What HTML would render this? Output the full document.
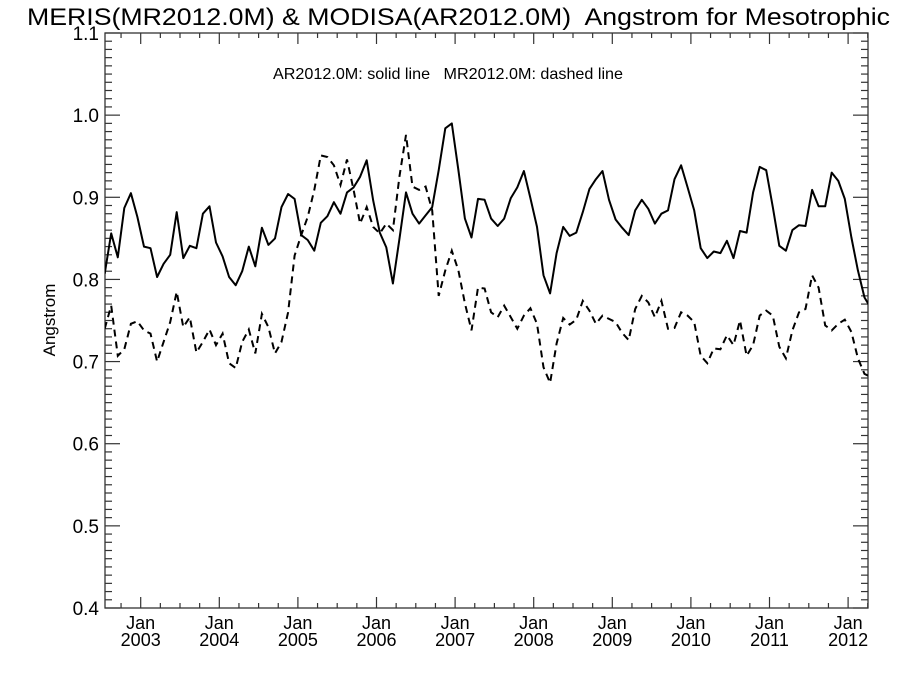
<!DOCTYPE html>
<html><head><meta charset="utf-8">
<style>
body{margin:0;background:#fff;}
svg{display:block;font-family:"Liberation Sans",Arial,sans-serif;}
</style></head>
<body>
<svg id="chart" width="900" height="675" viewBox="0 0 900 675">
<defs><clipPath id="clip"><rect x="105" y="33" width="763" height="575"/></clipPath></defs>
<text x="27" y="25" font-size="24" textLength="863" lengthAdjust="spacingAndGlyphs" xml:space="preserve">MERIS(MR2012.0M) &amp; MODISA(AR2012.0M)  Angstrom for Mesotrophic</text>
<text x="273" y="79" font-size="16" textLength="350" lengthAdjust="spacingAndGlyphs" xml:space="preserve">AR2012.0M: solid line   MR2012.0M: dashed line</text>
<text transform="translate(55,320) rotate(-90)" font-size="17" text-anchor="middle">Angstrom</text>
<g id="axes"></g>
<g id="series" clip-path="url(#clip)"></g>
</svg>
<script>
const yTicks = [0.4,0.5,0.6,0.7,0.8,0.9,1.0,1.1];
const years = [2003,2004,2005,2006,2007,2008,2009,2010,2011,2012];
const solidAR = [.807,.856,.827,.887,.905,.876,.840,.838,.803,.819,.830,.882,.826,.841,.838,.880,.889,.845,.828,.803,.793,.810,.840,.816,.863,.842,.850,.888,.904,.898,
.854,.848,.835,.869,.877,.894,.880,.906,.912,.925,.945,.896,.857,.839,.795,.849,.906,.880,.868,.878,.888,.933,.984,.990,.933,.874,.851,.898,.897,
.874,.865,.874,.899,.912,.932,.899,.864,.805,.783,.832,.864,.853,.857,.882,.910,.922,.932,.897,.873,.863,.854,.884,.897,.886,.868,.880,.884,.922,
.939,.912,.884,.838,.826,.834,.832,.847,.826,.859,.857,.906,.937,.933,.888,.841,.835,.860,.866,.865,.909,.889,.889,.930,.920,.898,.851,.811,.778,.765];
const dashedMR = [.740,.768,.707,.715,.746,.749,.738,.734,.700,.724,.748,.785,.742,.754,.711,.724,.739,.720,.734,.698,.692,.724,.739,.710,.758,.742,.710,.724,.760,.829,
.854,.876,.909,.951,.949,.939,.915,.946,.909,.868,.888,.864,.856,.868,.860,.925,.976,.913,.909,.913,.884,.780,.811,.835,.811,.771,.738,.790,.789,
.760,.754,.768,.754,.740,.756,.765,.746,.693,.674,.722,.753,.745,.751,.774,.762,.746,.756,.752,.748,.735,.726,.764,.780,.772,.754,.774,.740,.741,
.760,.756,.748,.707,.698,.716,.715,.732,.720,.750,.707,.720,.756,.762,.756,.718,.704,.738,.760,.764,.805,.790,.744,.738,.746,.751,.736,.704,.685,.681];

const NS='http://www.w3.org/2000/svg';
const L=105,R=868,T=33,B=608;
const yMin=0.4,yMax=1.1;
function yScale(v){return B-(v-yMin)/(yMax-yMin)*(B-T);}
function xScale(m){return 140.7+m*6.55;}
function mk(tag,attrs,parent){const e=document.createElementNS(NS,tag);for(const k in attrs)e.setAttribute(k,attrs[k]);parent.appendChild(e);return e;}
const axes=document.getElementById('axes');
const frame=mk('rect',{x:L,y:T,width:R-L,height:B-T,fill:'none',stroke:'#333','stroke-width':1.3},axes);


for(let k=0;k<=70;k++){
  const v=yMin+k*0.01, y=yScale(v), major=(k%10===0), len=major?15:7;
  const t1=mk('line',{x1:L,x2:L+len,y1:y,y2:y,stroke:'#333','stroke-width':1.2},axes);
  
  
  const t2=mk('line',{x1:R,x2:R-len,y1:y,y2:y,stroke:'#333','stroke-width':1.2},axes);
  
  
}
yTicks.forEach(v=>{
  const t=mk('text',{x:L-6,y:yScale(v)+7,'font-size':19,'text-anchor':'end'},axes);
  t.textContent=v.toFixed(1);
  
  
});
for(let m=-3;m<=111;m+=3){
  const x=xScale(m); if(x<L||x>R)continue;
  const major=(m%12===0), len=major?11:5;
  const t1=mk('line',{x1:x,x2:x,y1:B,y2:B-len,stroke:'#333','stroke-width':1.2},axes);
  
  
  const t2=mk('line',{x1:x,x2:x,y1:T,y2:T+len,stroke:'#333','stroke-width':1.2},axes);
  
  
}
years.forEach((yr,i)=>{
  const x=xScale((yr-2003)*12);
  const a=mk('text',{x:x,y:B+21,'font-size':18,'text-anchor':'middle'},axes);
  a.textContent='Jan';
  
  
  const b=mk('text',{x:x,y:B+38,'font-size':18,'text-anchor':'middle'},axes);
  b.textContent=String(yr);
  
  
});
const series=document.getElementById('series');
function pts(arr){return arr.map((v,i)=>xScale(i-5.5).toFixed(1)+','+yScale(v).toFixed(1)).join(' ');}
const s=mk('polyline',{points:pts(solidAR),fill:'none',stroke:'#000','stroke-width':2,'stroke-linejoin':'round'},series);


const d=mk('polyline',{points:pts(dashedMR),fill:'none',stroke:'#000','stroke-width':2,'stroke-dasharray':'7,5'},series);


</script>
</body></html>
